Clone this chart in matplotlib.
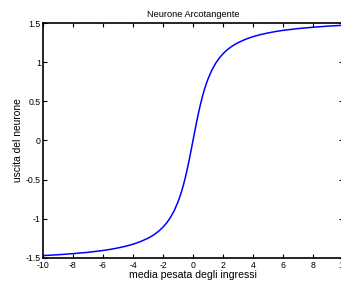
import matplotlib
matplotlib.use("Agg")
import matplotlib.pyplot as plt

plt.rcParams["font.family"] = ["Liberation Sans", "DejaVu Sans"]

# values
x_in = [-10, -9, -8, -7, -6, -5.5, -5, -4.5, -4, -3.5, -3, -2.75, -2.5, -2.25,
        -2, -1.75, -1.5, -1.25, -1, -0.875, -0.75, -0.625, -0.5, -0.375,
        -0.25, -0.125, 0, 0.125, 0.25, 0.375, 0.5, 0.625, 0.75, 0.875, 1,
        1.25, 1.5, 1.75, 2, 2.25, 2.5, 2.75, 3, 3.5, 4, 4.5, 5, 5.5, 6, 7,
        8, 9, 10]
y_out = [-1.471, -1.460, -1.446, -1.429, -1.406, -1.391, -1.373, -1.352,
         -1.326, -1.292, -1.249, -1.222, -1.190, -1.153, -1.107, -1.052,
         -0.983, -0.896, -0.785, -0.719, -0.644, -0.559, -0.464, -0.359,
         -0.245, -0.124, 0.0, 0.124, 0.245, 0.359, 0.464, 0.559, 0.644, 0.719,
         0.785, 0.896, 0.983, 1.052, 1.107, 1.153, 1.190, 1.222, 1.249, 1.292,
         1.326, 1.352, 1.373, 1.391, 1.406, 1.429, 1.446, 1.460, 1.471]

x_ticks = [-10, -8, -6, -4, -2, 0, 2, 4, 6, 8, 10]
y_ticks = [-1.5, -1, -0.5, 0, 0.5, 1, 1.5]

fig = plt.figure(figsize=(3.41, 2.84), dpi=100)
ax = fig.add_axes([0.126, 0.092, 0.88, 0.827])
ax.plot(x_in, y_out, color="#0000ff", lw=1.1)

ax.set_xlim(-10, 10)
ax.set_ylim(-1.5, 1.5)
ax.set_xticks(x_ticks)
ax.set_yticks(y_ticks)
ax.set_xticklabels([str(t) for t in x_ticks])
ax.set_yticklabels(["-1.5", "-1", "-0.5", "0", "0.5", "1", "1.5"])
ax.tick_params(direction="in", length=3, width=0.8, labelsize=6.3, pad=1.5,
               top=True, right=True)
ax.tick_params(axis="x", pad=2)
for s in ax.spines.values():
    s.set_linewidth(1.2)

ax.set_title("Neurone Arcotangente", fontsize=6.7, pad=4)
ax.set_xlabel("media pesata degli ingressi", fontsize=7.6, labelpad=0)
ax.set_ylabel("uscita del neurone", fontsize=7.4, labelpad=2)

fig.savefig("out.png", dpi=100)
